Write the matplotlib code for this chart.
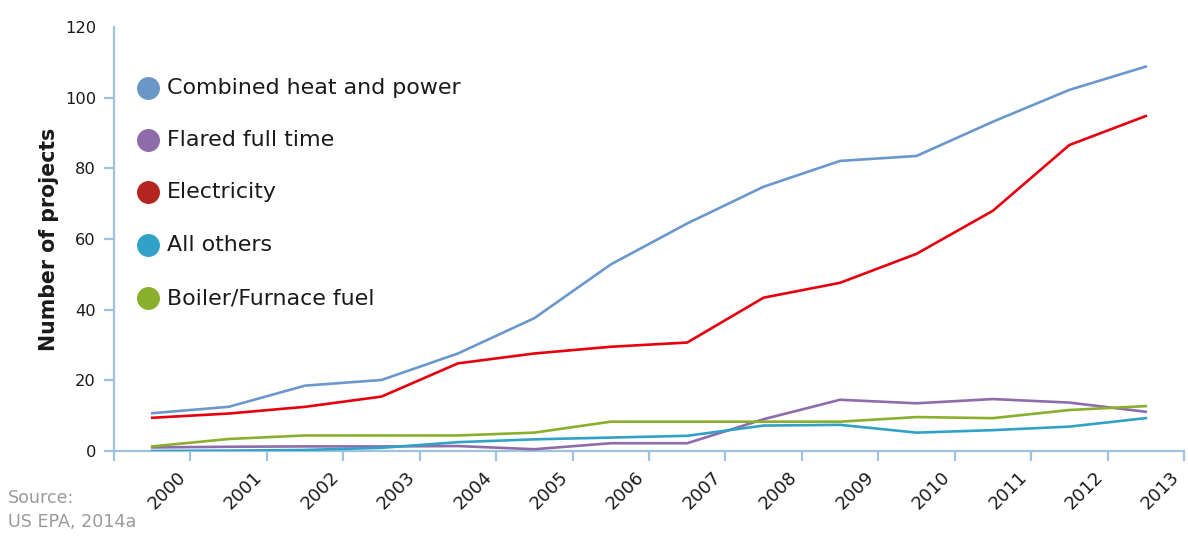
import matplotlib
matplotlib.use("Agg")
import matplotlib.pyplot as plt
from matplotlib.transforms import offset_copy

# Landfill gas energy projects by end use, 2000-2013
years = ["2000", "2001", "2002", "2003", "2004", "2005", "2006",
         "2007", "2008", "2009", "2010", "2011", "2012", "2013"]

chp = [10.7, 12.5, 18.5, 20.1, 27.6, 37.6, 52.8, 64.4, 74.8, 82.1, 83.5, 93.2, 102.2, 108.8]
flared = [1.0, 1.2, 1.3, 1.3, 1.4, 0.5, 2.2, 2.2, 9.0, 14.5, 13.5, 14.7, 13.7, 11.1]
electricity = [9.4, 10.6, 12.5, 15.4, 24.8, 27.6, 29.5, 30.7, 43.4, 47.6, 55.8, 68.0, 86.6, 94.8]
all_others = [0.0, 0.1, 0.3, 0.9, 2.5, 3.3, 3.8, 4.3, 7.2, 7.4, 5.2, 5.9, 6.9, 9.3]
boiler = [1.3, 3.4, 4.4, 4.4, 4.4, 5.2, 8.3, 8.3, 8.3, 8.3, 9.6, 9.3, 11.6, 12.7]

series_labels = ["Combined heat and power", "Flared full time", "Electricity",
                 "All others", "Boiler/Furnace fuel"]
series_values = [chp, flared, electricity, all_others, boiler]
line_colors = ["#6B98CC", "#8F6BAA", "#E6000F", "#31A2C7", "#8AAF2C"]
dot_colors = ["#6B96C8", "#8F6BAA", "#B5251F", "#31A2C7", "#8AAF2C"]

axis_color = "#9DC3E0"
text_color = "#1A1A1A"

fig = plt.figure(figsize=(11.88, 5.39), dpi=100)
ax = fig.add_axes([114 / 1188, 1 - 451 / 539, 1070 / 1188, 424 / 539])

x = list(range(len(years)))
for vals, col in zip(series_values, line_colors):
    ax.plot(x, vals, color=col, lw=1.9, solid_joinstyle="miter", zorder=3)

ax.set_xlim(-0.5, len(years) - 0.5)
ax.set_ylim(0, 120)

# spines
for s in ("top", "right"):
    ax.spines[s].set_visible(False)
for s in ("left", "bottom"):
    ax.spines[s].set_color(axis_color)
    ax.spines[s].set_linewidth(1.6)

# y ticks
ax.set_yticks(range(0, 121, 20))
ax.tick_params(axis="y", direction="out", length=7, width=1.6, color=axis_color,
               labelsize=11.7, labelcolor=text_color, pad=6)
ax.yaxis.get_major_ticks()[-1].tick1line.set_visible(False)

# x ticks on the category boundaries, labels hanging from the right edge of each category
ax.set_xticks([i - 0.5 for i in range(len(years) + 1)])
ax.set_xticklabels([])
ax.tick_params(axis="x", direction="out", length=7, width=1.6, color=axis_color)
label_tr = offset_copy(ax.get_xaxis_transform(), fig=fig, x=-1, y=-17, units="dots")
for i, yr in enumerate(years):
    ax.text(i + 0.5, 0, yr, rotation=45, transform=label_tr,
            ha="right", va="top", fontsize=13, color=text_color)

ax.set_ylabel("Number of projects", fontsize=14.8, fontweight="bold",
              color=text_color)
ax.yaxis.set_label_coords(-0.0514, 0.5)

# legend as coloured dots with labels
legend_y = [0.856, 0.7335, 0.6108, 0.4858, 0.3608]
for lab, col, yy in zip(series_labels, dot_colors, legend_y):
    ax.plot([0.0318], [yy], marker="o", markersize=15.5, color=col,
            transform=ax.transAxes, clip_on=False, zorder=4)
    ax.text(0.0495, yy, lab, transform=ax.transAxes, ha="left", va="center",
            fontsize=15.9, color=text_color)

fig.text(8 / 1188, 1 - 498 / 539, "Source:", fontsize=12.6, color="#9A9A9A",
         ha="left", va="center")
fig.text(8 / 1188, 1 - 522 / 539, "US EPA, 2014a", fontsize=12.6, color="#9A9A9A",
         ha="left", va="center")

fig.savefig("out.png", dpi=100, facecolor="white")
